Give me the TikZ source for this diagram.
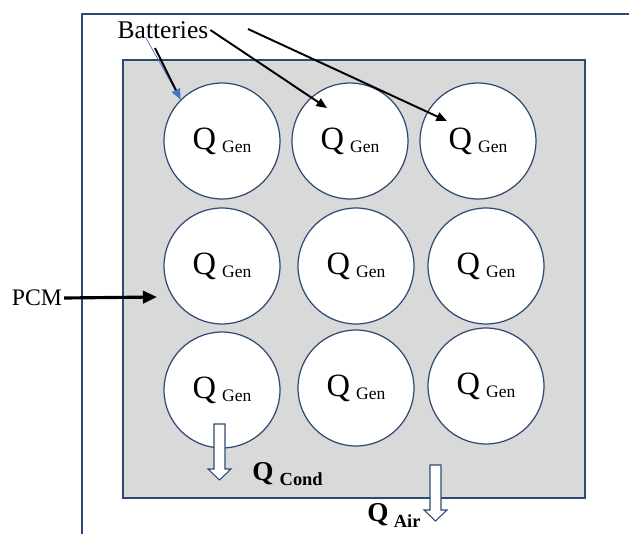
\documentclass[tikz,border=0pt]{standalone}
\usepackage{fontspec}
\setmainfont{Liberation Serif}
\usetikzlibrary{arrows.meta,calc}
\definecolor{Navy}{HTML}{2F4A72}
\definecolor{PcmGray}{HTML}{D9D9D9}
\definecolor{TipBlue}{HTML}{4472C4}
\tikzset{
  cell/.style={circle,draw=Navy,fill=white,line width=.7pt,minimum size=2.32cm,inner sep=0pt},
  ptr/.style={line width=1.1pt,-{Triangle[length=6pt,width=5pt]}},
  hollow/.style={draw=Navy,fill=white,line width=.6pt},
}
\newcommand{\qgen}{{\fontsize{18.5}{19}\selectfont Q}\hspace{3.5pt}\raisebox{-2pt}{\fontsize{10}{11}\selectfont Gen}}
\begin{document}
\begin{tikzpicture}[x=.02cm,y=-.02cm]
  \useasboundingbox (0,0) rectangle (629,534);
  \draw[Navy,line width=.6pt] (82,534) |- (629,14);
  \draw[Navy,fill=PcmGray,line width=.6pt] (123,60) rectangle (585,498);
  % battery cells
  \foreach \nm/\cx/\cy in {b11/222/141,b12/350/141,b13/478/141,
      b21/222/266,b22/356/266,b23/486/266,
      b31/222/390,b32/356/388,b33/486/386}
    \node[cell] (\nm) at (\cx,\cy) {\qgen};
  \node[inner sep=1pt,font=\fontsize{14.5}{16}\selectfont] (batt) at (163,30) {Batteries};
  \coordinate (s1) at (155,48);
  \coordinate (s3) at (248,29);
  \draw[TipBlue,line width=.4pt] (146,38) -- (b11.north west);
  \draw[line width=1.1pt,-{Triangle[length=6pt,width=5pt,color=TipBlue]}] (s1) -- (b11.north west);
  \draw[ptr] (batt.east) -- ($(b12)+(-23,-33)$);
  \draw[ptr] (s3) -- ($(b13)+(-31,-20)$);
  % PCM
  \node[inner sep=1pt,font=\fontsize{13.5}{15}\selectfont] (pcm) at (37,298) {PCM};
  \coordinate (pcmend) at (157,297);
  \draw[line width=1.8pt,-{Triangle[length=8pt,width=7pt]}] (pcm.east) -- (pcmend);
  % heat flows
  \draw[hollow] (219.5,424) ++(-5.5,0) -- ++(11,0) -- ++(0,45) -- ++(6,0) -- ++(-11.5,11) -- ++(-11.5,-11) -- ++(6,0) -- cycle;
  \draw[hollow] (435.5,465) ++(-5.5,0) -- ++(11,0) -- ++(0,45) -- ++(6,0) -- ++(-11.5,11) -- ++(-11.5,-11) -- ++(6,0) -- cycle;
  \node[anchor=base west,inner sep=0pt] (qcond) at (252,480)
    {\bfseries{\fontsize{15.5}{16}\selectfont Q}\hspace{3.5pt}\raisebox{-3pt}{\fontsize{10.5}{12}\selectfont Cond}};
  \node[anchor=base west,inner sep=0pt] (qair) at (367,521)
    {\bfseries{\fontsize{15.5}{16}\selectfont Q}\hspace{3pt}\raisebox{-3.5pt}{\fontsize{10.5}{12}\selectfont Air}};
\end{tikzpicture}
\end{document}
